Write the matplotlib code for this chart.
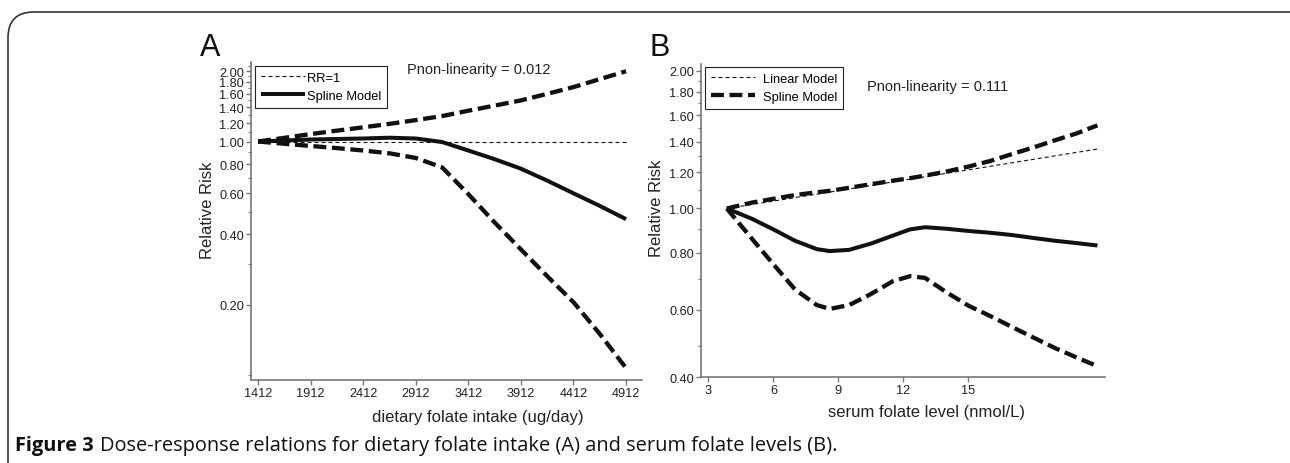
import matplotlib
matplotlib.use("Agg")
import matplotlib.pyplot as plt
from matplotlib.patches import FancyBboxPatch

plt.rcParams['font.family'] = ['Liberation Sans', 'DejaVu Sans']

# panel A: dietary folate intake
a_x = [1412, 1662, 1912, 2162, 2412, 2662, 2912, 3162, 3412, 3662, 3912, 4162, 4412, 4662, 4912]
a_spline = [1.00, 1.01, 1.02, 1.025, 1.03, 1.038, 1.03, 0.995, 0.915, 0.84, 0.765, 0.68, 0.60, 0.53, 0.465]
a_upper = [1.00, 1.037, 1.076, 1.113, 1.15, 1.19, 1.235, 1.285, 1.355, 1.425, 1.50, 1.60, 1.71, 1.85, 2.00]
a_lower = [1.00, 0.978, 0.957, 0.937, 0.915, 0.89, 0.85, 0.775, 0.595, 0.45, 0.345, 0.265, 0.205, 0.15, 0.107]
a_ref = [1.0] * len(a_x)
a_xticks = [1412, 1912, 2412, 2912, 3412, 3912, 4412, 4912]
a_yticks = [0.2, 0.4, 0.6, 0.8, 1.0, 1.2, 1.4, 1.6, 1.8, 2.0]

# panel B: serum folate level
b_x = [3.85, 5, 6, 7, 8, 8.6, 9.5, 10.5, 11.5, 12.3, 13, 14, 15, 16, 17, 18, 19, 20, 20.95]
b_spline = [1.00, 0.95, 0.90, 0.85, 0.815, 0.807, 0.812, 0.838, 0.872, 0.90, 0.91, 0.903, 0.893, 0.885, 0.875, 0.862, 0.85, 0.84, 0.83]
b_upper = [1.00, 1.03, 1.05, 1.07, 1.085, 1.093, 1.11, 1.13, 1.15, 1.165, 1.18, 1.205, 1.235, 1.27, 1.315, 1.36, 1.41, 1.46, 1.52]
b_lower = [1.00, 0.86, 0.755, 0.665, 0.615, 0.603, 0.615, 0.65, 0.693, 0.711, 0.705, 0.655, 0.613, 0.582, 0.551, 0.522, 0.495, 0.472, 0.452]
b_lin_x = [3.85, 6, 9, 12, 15, 18, 20.95]
b_linear = [1.00, 1.038, 1.094, 1.153, 1.215, 1.281, 1.349]
b_xticks = [3, 6, 9, 12, 15]
b_yticks = [0.6, 0.8, 1.0, 1.2, 1.4, 1.6, 1.8, 2.0]
b_ybottom = 0.428

fig = plt.figure(figsize=(12.9, 4.64), dpi=100)

axA = fig.add_axes([0.1946, 0.1789, 0.3031, 0.6853])
axB = fig.add_axes([0.5434, 0.1853, 0.3132, 0.6746])

dash_thick = (3.0, 1.3)
dash_thin = (3.6, 2.7)
ink = '#111111'
spine_c = '#777777'
txt = '#222222'


def style(ax):
    for s in ['top', 'right']:
        ax.spines[s].set_visible(False)
    for s in ['left', 'bottom']:
        ax.spines[s].set_color(spine_c)
        ax.spines[s].set_linewidth(1.2)
    ax.tick_params(which='both', color=spine_c, labelcolor=txt, labelsize=9.2, direction='out')
    ax.tick_params(which='major', length=3.5, width=1, pad=1.5)
    ax.tick_params(which='minor', length=2, width=0.8)


# ---- A ----
axA.set_yscale('log')
axA.plot(a_x, a_ref, color=ink, lw=0.8, dashes=dash_thin, label='RR=1')
axA.plot(a_x, a_spline, color=ink, lw=2.9, solid_capstyle='butt', label='Spline Model')
axA.plot(a_x, a_upper, color=ink, lw=3.1, dashes=dash_thick)
axA.plot(a_x, a_lower, color=ink, lw=3.1, dashes=dash_thick)
axA.set_xlim(1345, 5064)
axA.set_ylim(0.0952, 2.19)
axA.set_xticks(a_xticks)
axA.set_xticklabels([str(v) for v in a_xticks])
axA.set_yticks(a_yticks)
axA.set_yticklabels(['%.2f' % v for v in a_yticks])
axA.set_yticks([0.1, 0.3, 0.5, 0.7, 0.9, 1.1, 1.3, 1.5, 1.7, 1.9, 2.1], minor=True)
axA.yaxis.set_minor_formatter(matplotlib.ticker.NullFormatter())
style(axA)
axA.set_xlabel('dietary folate intake (ug/day)', fontsize=12, color=txt)
axA.xaxis.set_label_coords(0.58, -0.091)
axA.set_ylabel('Relative Risk', fontsize=12, color=txt)
axA.yaxis.set_label_coords(-0.093, 0.538)
axA.text(0.399, 0.978, 'Pnon-linearity = 0.012', transform=axA.transAxes,
         fontsize=10.5, color=txt, va='center', ha='left')
legA = axA.legend(loc='upper left', bbox_to_anchor=(0.01, 0.987), fontsize=9.3,
                  handlelength=3.4, handletextpad=0.15, borderpad=0.45, labelspacing=0.45,
                  fancybox=False, framealpha=1, borderaxespad=0)
legA.get_frame().set_edgecolor(txt)
legA.get_frame().set_linewidth(0.8)

# ---- B ----
axB.set_yscale('log')
axB.plot(b_lin_x, b_linear, color=ink, lw=0.8, dashes=dash_thin, label='Linear Model')
axB.plot(b_x, b_upper, color=ink, lw=3.1, dashes=dash_thick, label='Spline Model')
axB.plot(b_x, b_spline, color=ink, lw=2.9, solid_capstyle='butt')
axB.plot(b_x, b_lower, color=ink, lw=3.1, dashes=dash_thick)
axB.set_xlim(2.66, 21.3)
axB.set_ylim(b_ybottom, 2.07)
axB.set_xticks(b_xticks)
axB.set_xticklabels([str(v) for v in b_xticks])
yt = [b_ybottom] + b_yticks
axB.set_yticks(yt)
axB.set_yticklabels(['%.2f' % round(v, 1) for v in yt])
axB.set_yticks([0.5, 0.7, 0.9, 1.1, 1.3, 1.5, 1.7, 1.9], minor=True)
axB.yaxis.set_minor_formatter(matplotlib.ticker.NullFormatter())
style(axB)
axB.set_xlabel('serum folate level (nmol/L)', fontsize=12, color=txt)
axB.xaxis.set_label_coords(0.557, -0.086)
axB.set_ylabel('Relative Risk', fontsize=12, color=txt)
axB.yaxis.set_label_coords(-0.092, 0.543)
axB.text(0.411, 0.93, 'Pnon-linearity = 0.111', transform=axB.transAxes,
         fontsize=10.5, color=txt, va='center', ha='left')
legB = axB.legend(loc='upper left', bbox_to_anchor=(0.01, 0.99), fontsize=9.3,
                  handlelength=3.4, handletextpad=0.6, borderpad=0.45, labelspacing=0.45,
                  fancybox=False, framealpha=1, borderaxespad=0)
legB.get_frame().set_edgecolor(txt)
legB.get_frame().set_linewidth(0.8)

# panel letters
fig.text(210 / 1290, 1 - 48 / 464, 'A', fontsize=22, ha='center', va='center', color=ink)
fig.text(660 / 1290, 1 - 48 / 464, 'B', fontsize=22, ha='center', va='center', color=ink)

# caption: bold "Figure 3" followed by the regular title
cap_y = 1 - 446 / 464
t1 = fig.text(15 / 1290, cap_y, 'Figure 3', fontsize=14.4, fontweight='bold',
              family=['Open Sans', 'DejaVu Sans'], ha='left', va='center', color=ink)
fig.canvas.draw()
bb = t1.get_window_extent()
fig.text((bb.x1 + 6) / 1290, cap_y,
         'Dose-response relations for dietary folate intake (A) and serum folate levels (B).',
         fontsize=14.4, family=['Open Sans', 'DejaVu Sans'],
         ha='left', va='center', color=ink)

# outer rounded frame
frame = FancyBboxPatch((8 / 1290, -0.1), 1.2, 1 - 13 / 464 + 0.1,
                       boxstyle='round,pad=0,rounding_size=0.02',
                       transform=fig.transFigure, fill=False, edgecolor='#333333', lw=1.2,
                       mutation_aspect=1290 / 464)
fig.patches.append(frame)

fig.savefig('out.png', dpi=100)
